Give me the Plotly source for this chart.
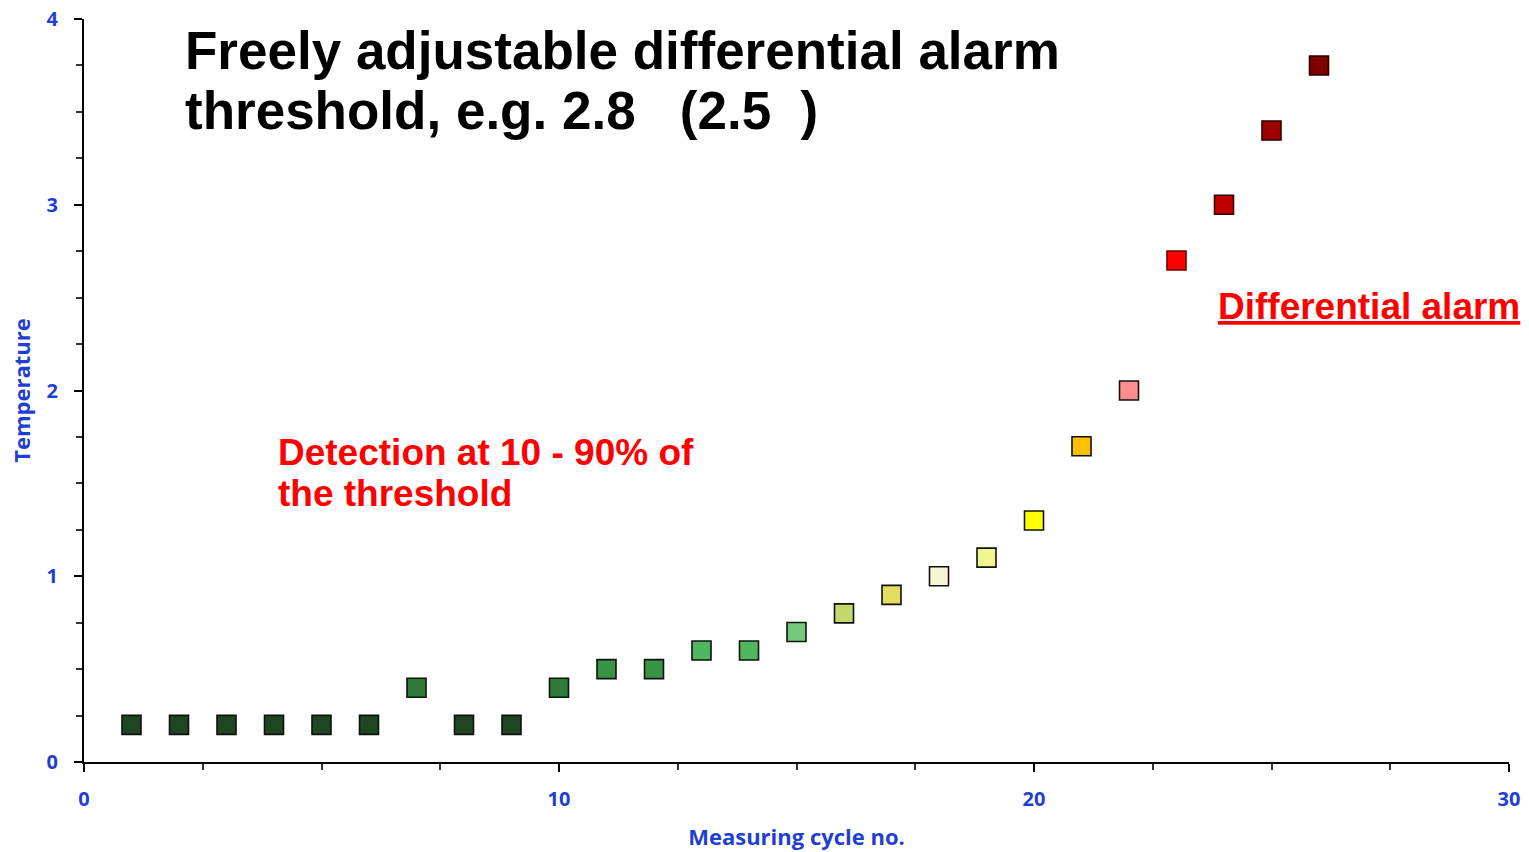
import plotly.graph_objects as go

cycles = list(range(1, 27))
temperature = [0.2, 0.2, 0.2, 0.2, 0.2, 0.2, 0.4, 0.2, 0.2, 0.4,
               0.5, 0.5, 0.6, 0.6, 0.7, 0.8, 0.9, 1.0, 1.1, 1.3,
               1.7, 2.0, 2.7, 3.0, 3.4, 3.75]
point_colors = ["#1d4621"] * 6 + ["#2e7b3a"] + ["#1d4621"] * 2 + ["#2e7b3a",
                "#3a9446", "#3a9446", "#4fb85f", "#4fb85f", "#74c97e",
                "#c3d96d", "#e1dd62", "#f6f6d2", "#f2f68e", "#ffff00",
                "#ffc000", "#ff8f8f", "#ff0000", "#c00000", "#a00000", "#800000"]
line_colors = ["#111111"] * 22 + ["#6a0000", "#3a0000", "#2a0000", "#2a0000"]

title_lines = ["Freely adjustable differential alarm", "threshold, e.g. 2.8   (2.5  )"]
detect_lines = ["Detection at 10 - 90% of", "the threshold"]
alarm_label = "Differential alarm"

x_ticks = [0, 10, 20, 30]
y_ticks = [0, 1, 2, 3, 4]

blue = "#1f3fd4"
tick_font = dict(family="Open Sans", size=20, color=blue, weight="bold")

fig = go.Figure()
fig.add_trace(go.Scatter(
    x=cycles, y=temperature, mode="markers",
    marker=dict(symbol="square", size=19, color=point_colors,
                line=dict(color=line_colors, width=1.6)),
    showlegend=False, hoverinfo="x+y",
))

fig.update_layout(
    width=1529, height=852,
    margin=dict(l=84, r=20, t=19, b=90),
    plot_bgcolor="white", paper_bgcolor="white",
    xaxis=dict(
        range=[0, 30], tickvals=x_ticks, ticktext=[str(v) for v in x_ticks],
        showgrid=False, zeroline=False, showline=True, linecolor="black", linewidth=2,
        ticks="outside", ticklen=8, tickwidth=2, tickcolor="black",
        minor=dict(dtick=2.5, ticks="outside", ticklen=6, tickwidth=2, tickcolor="#333"),
        tickfont=tick_font, ticklabelstandoff=10, automargin=False,
        title=dict(text="Measuring cycle no.", font=dict(family="Open Sans", size=22, color=blue, weight="bold"), standoff=19),
    ),
    yaxis=dict(
        range=[0, 4], tickvals=y_ticks, ticktext=[str(v) for v in y_ticks],
        showgrid=False, zeroline=False, showline=True, linecolor="black", linewidth=2,
        ticks="outside", ticklen=8, tickwidth=2, tickcolor="black",
        minor=dict(dtick=0.25, ticks="outside", ticklen=6, tickwidth=2, tickcolor="#333"),
        tickfont=tick_font, ticklabelstandoff=12, automargin=False,
        title=dict(text="Temperature", font=dict(family="Open Sans", size=22, color=blue, weight="bold"), standoff=10),
    ),
)

title_font = dict(family="Liberation Sans", size=53, color="black", weight="bold")
fig.add_annotation(text=title_lines[0], x=(183 - 84) / 1425, y=(852 - 90 - 51) / 743,
                   xref="paper", yref="paper", xanchor="left", yanchor="middle",
                   showarrow=False, font=title_font)
fig.add_annotation(text=title_lines[1], x=(183 - 84) / 1425, y=(852 - 90 - 111) / 743,
                   xref="paper", yref="paper", xanchor="left", yanchor="middle",
                   showarrow=False, font=title_font)

red_font = dict(family="Liberation Sans", size=37, color="#ff0000", weight="bold")
fig.add_annotation(text=detect_lines[0], x=(276 - 84) / 1425, y=(762 - 452) / 743,
                   xref="paper", yref="paper", xanchor="left", yanchor="middle",
                   showarrow=False, font=red_font)
fig.add_annotation(text=detect_lines[1], x=(276 - 84) / 1425, y=(762 - 493) / 743,
                   xref="paper", yref="paper", xanchor="left", yanchor="middle",
                   showarrow=False, font=red_font)
fig.add_annotation(text=alarm_label, x=(1216 - 84) / 1425, y=(762 - 306) / 743,
                   xref="paper", yref="paper", xanchor="left", yanchor="middle",
                   showarrow=False,
                   font=dict(family="Liberation Sans", size=37, color="#ff0000", weight="bold", lineposition="under"))

fig.write_html("out.html", config={"displayModeBar": False},
               post_script="document.body.style.margin='0';document.body.style.overflow='hidden';")
